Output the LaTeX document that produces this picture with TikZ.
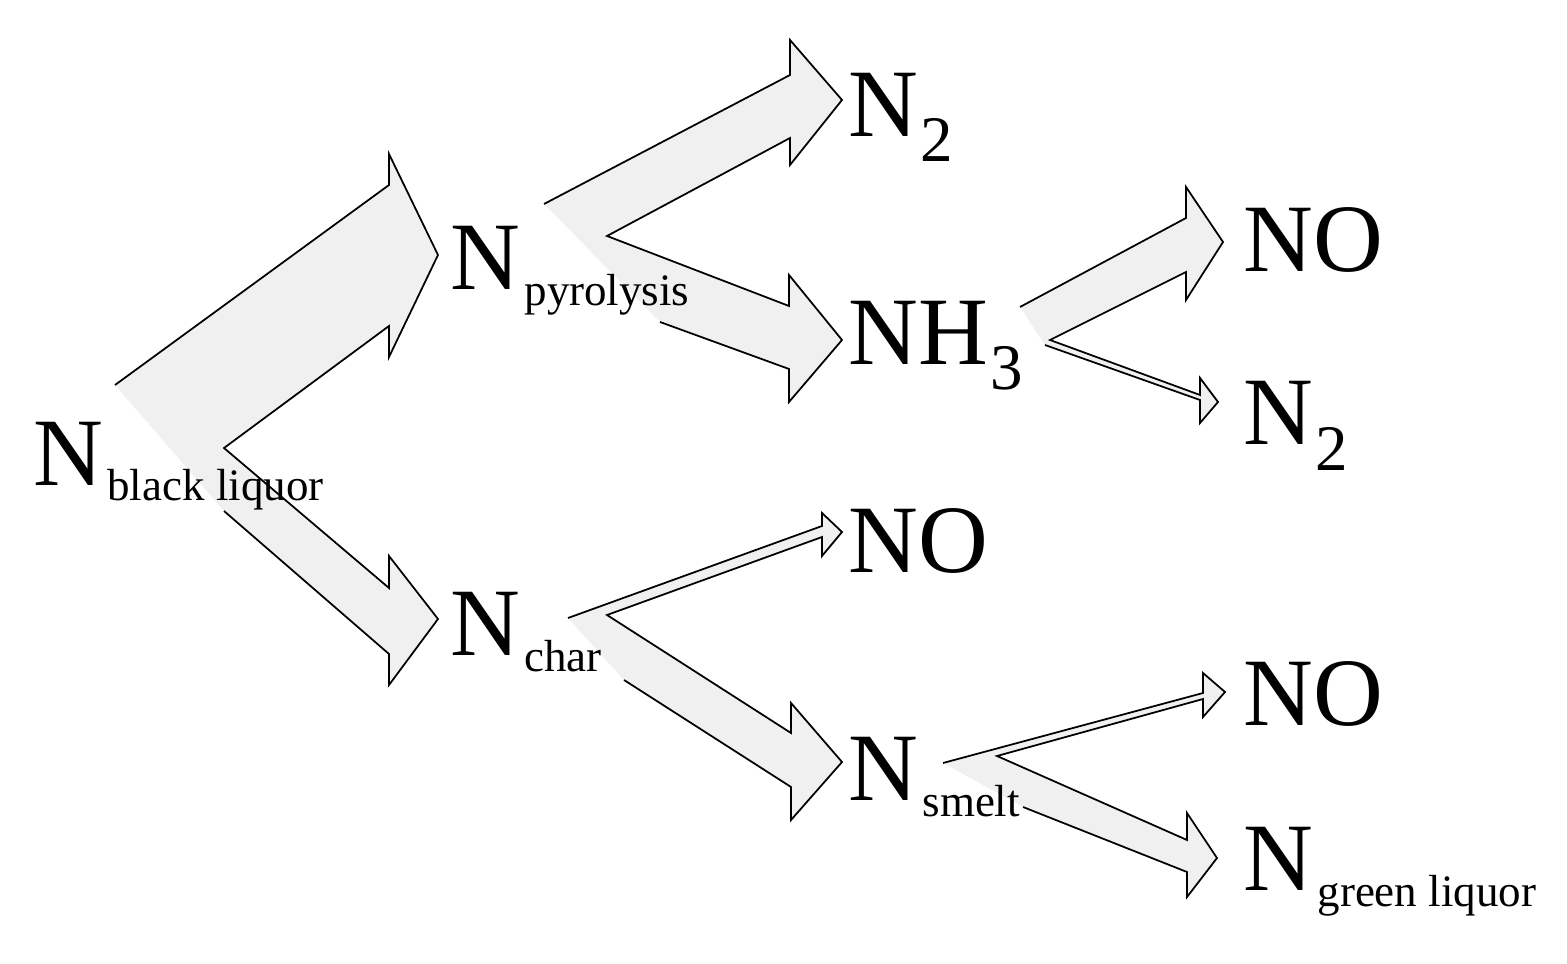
\documentclass[tikz,border=0pt]{standalone}
\usepackage{fontspec}
\setmainfont{Liberation Serif}
\newcommand\mysub[1]{\hspace{0.4mm}\raisebox{-1.6mm}{\fontsize{12.8pt}{14pt}\selectfont #1}}
\newcommand\mydig[1]{\hspace{0.2mm}\raisebox{-2.5mm}{\fontsize{18.5pt}{20pt}\selectfont #1}}
\newcommand\forkpath[1]{\fill[arrfill] #1 -- cycle; \draw[arrline] #1;}
\begin{document}
\begin{tikzpicture}[x=0.1mm,y=-0.1mm,
  arrfill/.style={fill=black!6},
  arrline/.style={draw=black,line width=0.5pt,line join=miter},
  lbl/.style={anchor=base west,inner sep=0pt,font=\fontsize{27.5pt}{30pt}\selectfont}]
\useasboundingbox (0,0) rectangle (1567,964);
\forkpath{(115,385)--(389,185)--(389,154)--(438,255)--(389,357)--(389,326)--(224,448)--(389,588)--(389,556)--(438,619)--(389,685)--(389,654)--(224,511)}
\forkpath{(544,204)--(790,75)--(790,40)--(842,100)--(790,165)--(790,138)--(607,236)--(789,306)--(789,275)--(842,340)--(789,402)--(789,369)--(660,322)}
\forkpath{(568,618)--(822,526)--(822,513)--(842,532)--(822,556)--(822,537)--(607,615)--(791,733)--(791,703)--(842,762)--(791,820)--(791,787)--(624,680)}
\forkpath{(1020,307)--(1186,218)--(1186,187)--(1223,242)--(1186,300)--(1186,272)--(1050,340)--(1200,395)--(1200,378)--(1218,402)--(1200,423)--(1200,400)--(1045,345)}
\forkpath{(943,763)--(1203,693)--(1203,673)--(1225,692)--(1203,717)--(1203,699)--(997,756)--(1187,840)--(1187,813)--(1217,858)--(1187,897)--(1187,872)--(1023,807)}
\node[lbl] (bl) at (33,485) {N\mysub{black liquor}};
\node[lbl] (py) at (450,290) {N\mysub{pyrolysis}};
\node[lbl] (ch) at (450,655) {N\mysub{char}};
\node[lbl] (n2a) at (848,137) {N\mydig{2}};
\node[lbl] (nh3) at (848,365) {NH\mydig{3}};
\node[lbl] (noa) at (848,572) {NO};
\node[lbl] (sm) at (848,800) {N\mysub{smelt}};
\node[lbl] (nob) at (1243,272) {NO};
\node[lbl] (n2b) at (1243,445) {N\mydig{2}};
\node[lbl] (noc) at (1243,725) {NO};
\node[lbl] (gl) at (1243,890) {N\mysub{green liquor}};
\end{tikzpicture}
\end{document}
